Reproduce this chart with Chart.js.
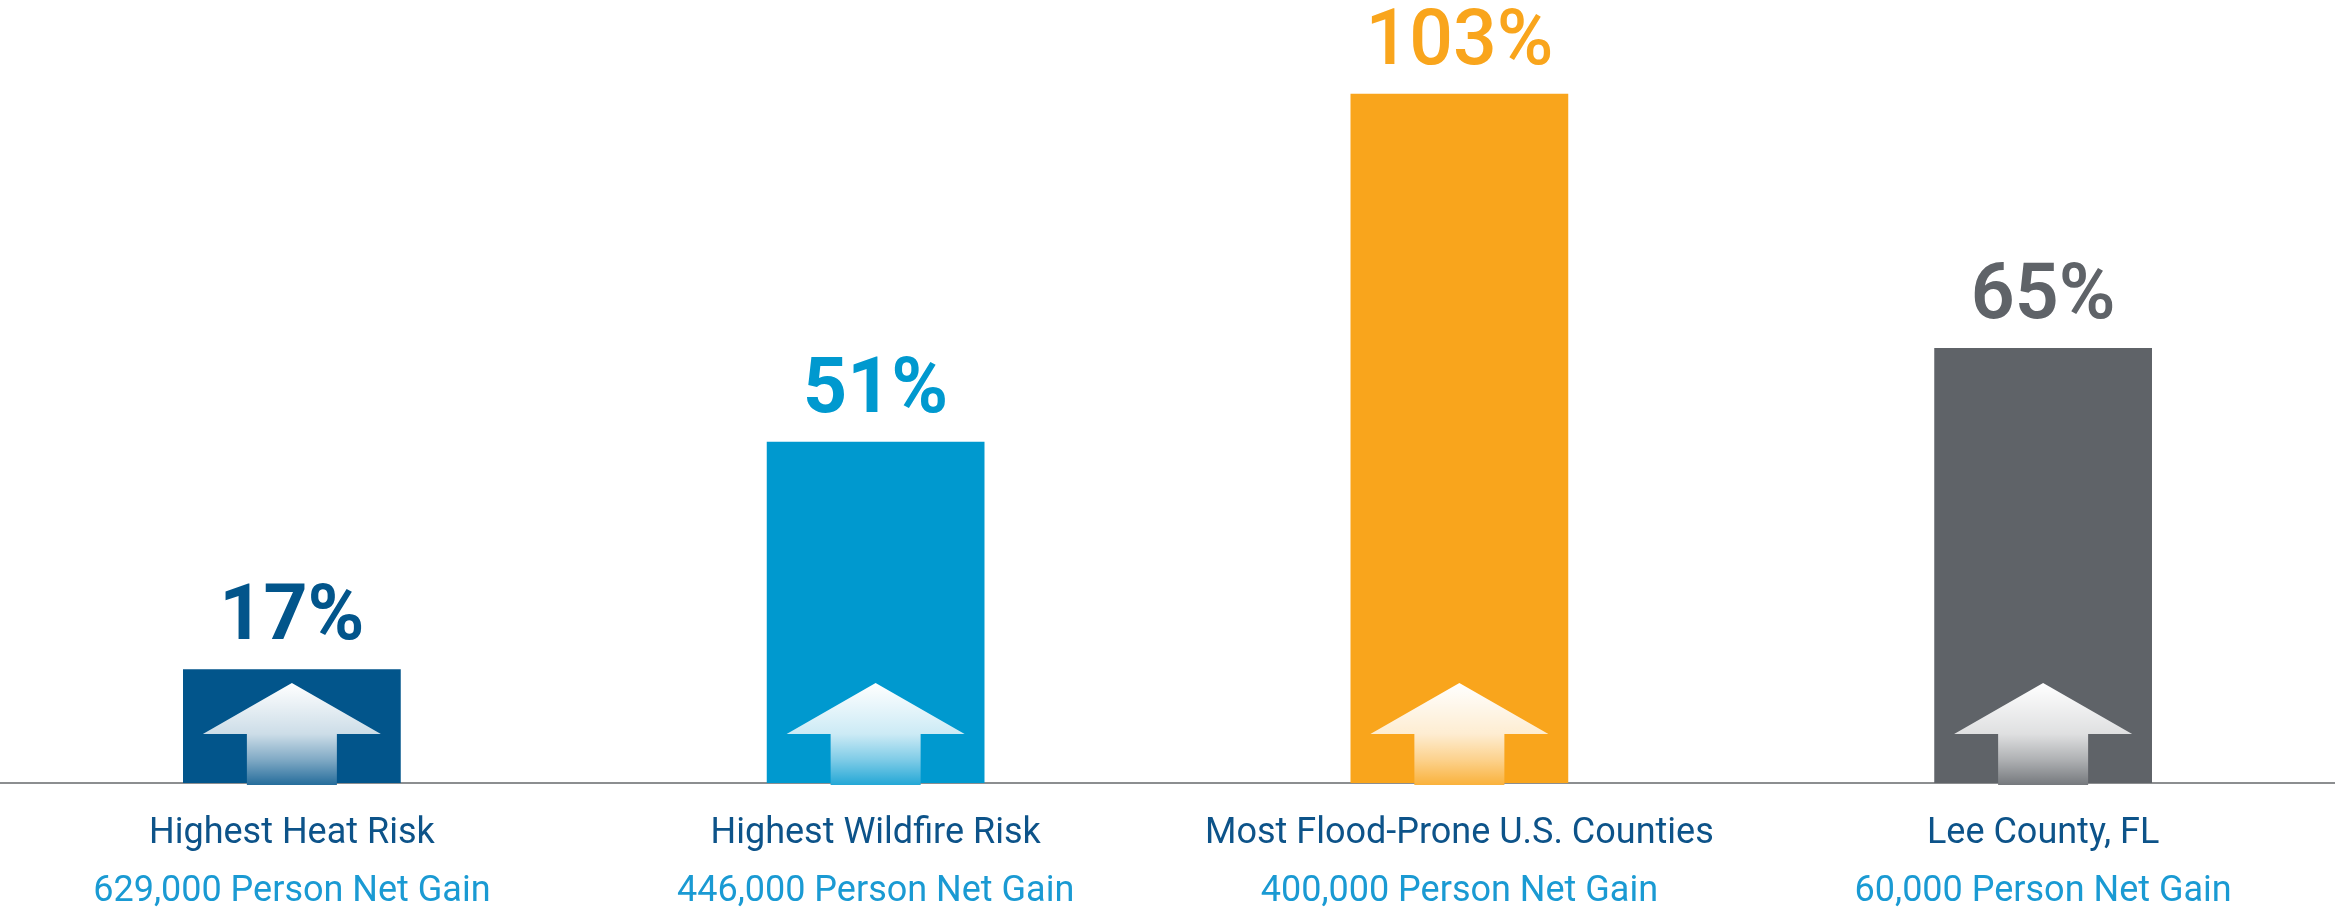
<!DOCTYPE html>
<html>
<head>
<meta charset="utf-8">
<script src="https://cdn.jsdelivr.net/npm/chart.js@4.4.1/dist/chart.umd.min.js"></script>
<style>
  html, body { margin: 0; padding: 0; background: #fff; }
  #wrap { width: 2335px; height: 910px; }
</style>
</head>
<body>
<div id="wrap"><canvas id="migrationChart"></canvas></div>
<script>
// Population growth in high climate-risk areas
const categories = ['Highest Heat Risk', 'Highest Wildfire Risk', 'Most Flood-Prone U.S. Counties', 'Lee County, FL']
const netGain = ['629,000 Person Net Gain', '446,000 Person Net Gain', '400,000 Person Net Gain', '60,000 Person Net Gain']
const growthPct = [17, 51, 103, 65]

const barColors = ['#02558B', '#0099CF', '#F9A51C', '#5F6368']
const valueWeights = ['bold', 'bold', '500', '600']

// value labels + white arrows drawn on each bar
const barDecor = {
  id: 'barDecor',
  afterDatasetsDraw(chart) {
    const ctx = chart.ctx
    const meta = chart.getDatasetMeta(0)
    const base = chart.scales.y.getPixelForValue(0)
    ctx.save()
    meta.data.forEach((bar, i) => {
      const cx = bar.x
      const arrow = () => {
        ctx.beginPath()
        ctx.moveTo(cx, base - 100)
        ctx.lineTo(cx + 89, base - 49)
        ctx.lineTo(cx + 45, base - 49)
        ctx.lineTo(cx + 45, base + 2)
        ctx.lineTo(cx - 45, base + 2)
        ctx.lineTo(cx - 45, base - 49)
        ctx.lineTo(cx - 89, base - 49)
        ctx.closePath()
      }
      arrow()
      ctx.fillStyle = barColors[i]
      ctx.fill()
      const grad = ctx.createLinearGradient(0, base - 100, 0, base + 2)
      grad.addColorStop(0, 'rgba(255,255,255,1)')
      grad.addColorStop(0.5, 'rgba(255,255,255,0.8)')
      grad.addColorStop(0.75, 'rgba(255,255,255,0.5)')
      grad.addColorStop(1, 'rgba(255,255,255,0.14)')
      arrow()
      ctx.fillStyle = grad
      ctx.fill()

      ctx.font = valueWeights[i] + ' 77px Roboto'
      ctx.fillStyle = barColors[i]
      ctx.textAlign = 'center'
      ctx.textBaseline = 'alphabetic'
      ctx.fillText(growthPct[i] + '%', cx, bar.y - 30)
    })
    ctx.restore()
  }
}

new Chart(document.getElementById('migrationChart'), {
  type: 'bar',
  data: {
    labels: categories,
    datasets: [{
      data: growthPct,
      backgroundColor: barColors,
      borderWidth: 0,
      barPercentage: 0.373,
      categoryPercentage: 1
    }]
  },
  options: {
    responsive: true,
    maintainAspectRatio: false,
    animation: false,
    devicePixelRatio: 1,
    layout: { padding: 0 },
    plugins: {
      legend: { display: false },
      tooltip: { enabled: false }
    },
    scales: {
      y: { display: false, min: 0, max: 117 },
      x: {
        position: 'bottom',
        weight: 0,
        grid: { display: true, drawOnChartArea: false, drawTicks: false },
        border: { display: true, color: '#8C8E90', width: 2 },
        ticks: {
          color: '#0D5389',
          padding: 29,
          maxRotation: 0,
          font: { family: 'Roboto', size: 36, lineHeight: 1.2 }
        },
        afterFit(scale) { scale.height = 87 }
      },
      x2: {
        type: 'category',
        labels: netGain,
        position: 'bottom',
        weight: 1,
        offset: true,
        grid: { display: false, drawTicks: false },
        border: { display: false },
        ticks: {
          color: '#1A9AD3',
          padding: 0,
          maxRotation: 0,
          font: { family: 'Roboto', size: 36, lineHeight: 1.2 }
        },
        afterFit(scale) { scale.height = 40 }
      }
    }
  },
  plugins: [barDecor]
})
</script>
</body>
</html>
